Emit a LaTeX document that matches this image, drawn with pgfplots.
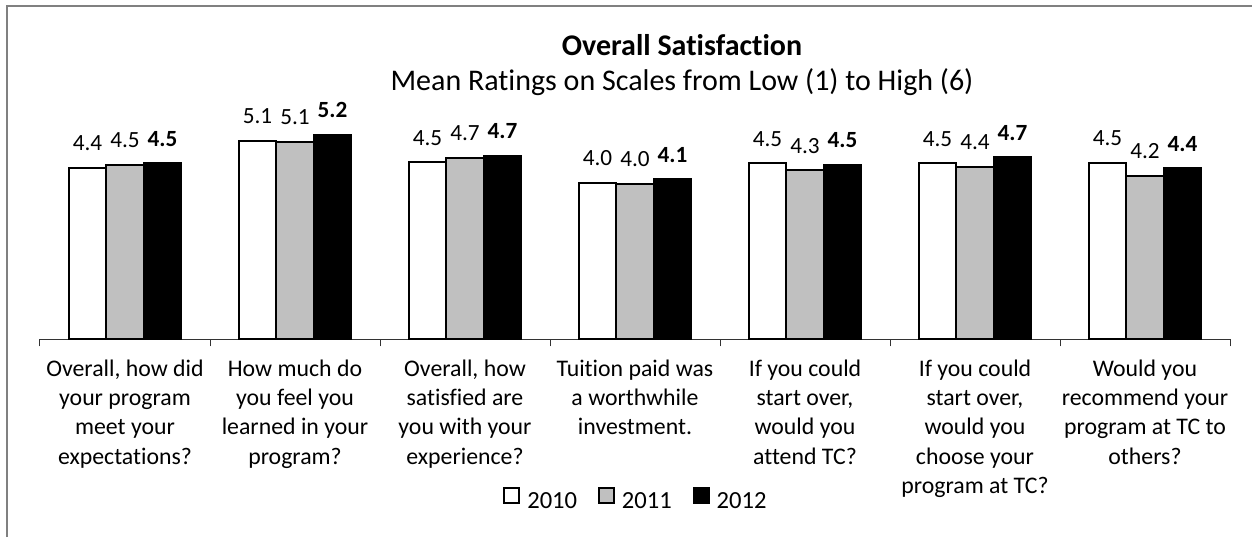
\documentclass[border=0pt]{standalone}
\usepackage{pgfplots}
\pgfplotsset{compat=1.18}
\usepackage{fontspec}
\setmainfont[Ligatures=CommonOff]{Carlito}
\definecolor{bargray}{HTML}{C0C0C0}
\definecolor{framegray}{HTML}{808080}
\begin{document}
\begin{tikzpicture}
\useasboundingbox (0,0) rectangle (626pt,-268.5pt);
\draw[framegray, line width=0.75pt] (3.5pt,-268.5pt) -- (3.5pt,-3pt) -- (626pt,-3pt);
\node[font=\fontsize{15}{18}\selectfont\bfseries, anchor=base, inner sep=0pt] at (341pt,-27.5pt) {Overall Satisfaction};
\node[font=\fontsize{15}{18}\selectfont, anchor=base, inner sep=0pt] at (341pt,-45pt) {Mean Ratings on Scales from Low (1) to High (6)};
\begin{axis}[
  at={(20pt,-169.65pt)}, anchor=south west,
  width=595pt, height=117pt, scale only axis,
  ymin=0, ymax=6, xmin=-0.5, xmax=6.5,
  axis y line=none, axis x line*=bottom,
  axis line style={black!80, line width=0.5pt},
  xtick={0,...,6},
  xticklabels={{Overall, how did\\your program\\meet your\\expectations?},
               {How much do\\you feel you\\learned in your\\program?},
               {Overall, how\\satisfied are\\you with your\\experience?},
               {Tuition paid was\\a worthwhile\\investment.},
               {If you could\\start over,\\would you\\attend TC?},
               {If you could\\start over,\\would you\\choose your\\program at TC?},
               {Would you\\recommend your\\program at TC to\\others?}},
  minor xtick={-0.5,0.5,...,6.5},
  major tick length=0pt, minor tick length=3.5pt, tick align=outside,
  every tick/.style={black!80, line width=0.5pt},
  xticklabel style={font=\fontsize{11.9}{14.65}\selectfont, align=center, anchor=north, inner sep=0pt, yshift=-10pt},
  ybar=0pt, bar width=18.75pt,
  nodes near coords,
  every node near coord/.append style={font=\fontsize{11.6}{14}\selectfont, anchor=base, inner sep=0pt, yshift=8.5pt, text=black},
  /pgf/number format/fixed, /pgf/number format/zerofill, /pgf/number format/precision=1,
  /pgf/number format/assume math mode=true,
  legend columns=3,
  legend style={at={(0.5,0)}, anchor=center, yshift=-80pt, draw=none, fill=none,
    font=\fontsize{12.3}{14}\selectfont, inner sep=0pt, nodes={inner sep=0pt},
    /tikz/every odd column/.append style={column sep=3.5pt},
    /tikz/every even column/.append style={column sep=10.5pt}},
  legend image code/.code={\draw[#1, line width=0.9pt] (0pt,-0.5pt) rectangle (7.5pt,6.8pt);},
  clip=false,
]
\addplot[draw=black, line width=1pt, fill=white] coordinates {(0,4.40) (1,5.09) (2,4.54) (3,4.02) (4,4.52) (5,4.51) (6,4.53)};
\addplot[draw=black, line width=1pt, fill=bargray] coordinates {(0,4.47) (1,5.07) (2,4.66) (3,3.99) (4,4.33) (5,4.43) (6,4.19)};
\addplot[draw=black, line width=1pt, fill=black, every node near coord/.append style={font=\fontsize{11.6}{14}\selectfont\bfseries}] coordinates {(0,4.51) (1,5.24) (2,4.71) (3,4.10) (4,4.47) (5,4.67) (6,4.38)};
\legend{2010,2011,2012}
\end{axis}
\end{tikzpicture}
\end{document}
